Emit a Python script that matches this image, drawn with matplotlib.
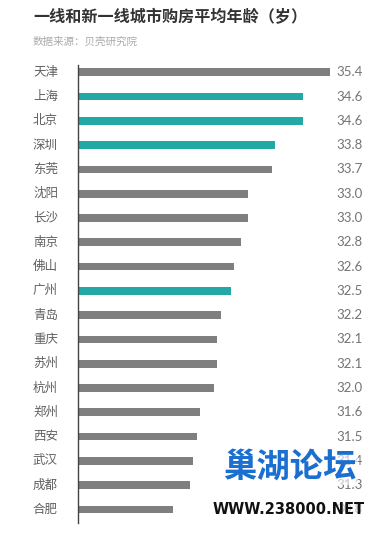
import matplotlib
matplotlib.use("Agg")
import matplotlib.pyplot as plt
import matplotlib.transforms as mtransforms

plt.rcParams['font.family'] = ['Noto Sans CJK SC', 'DejaVu Sans']

cities = ["天津", "上海", "北京", "深圳", "东莞", "沈阳", "长沙", "南京", "佛山", "广州",
          "青岛", "重庆", "苏州", "杭州", "郑州", "西安", "武汉", "成都", "合肥"]
ages = [35.4, 34.6, 34.6, 33.8, 33.7, 33.0, 33.0, 32.8, 32.6, 32.5,
        32.2, 32.1, 32.1, 32.0, 31.6, 31.5, 31.4, 31.3, 30.8]
highlight = ["上海", "北京", "深圳", "广州"]
title = "一线和新一线城市购房平均年龄（岁）"
source = "数据来源：贝壳研究院"

W, H = 392, 533
fig = plt.figure(figsize=(W / 100, H / 100), dpi=100)
fig.patch.set_facecolor("white")

ax_left, ax_top, ax_bottom = 77.5, 65, 523
ax = fig.add_axes([ax_left / W, 1 - ax_bottom / H, 1 - ax_left / W, (ax_bottom - ax_top) / H])
xmin = 28.0
px_per_unit = 34.1
ax.set_xlim(xmin, xmin + (W - ax_left) / px_per_unit)
ax.set_ylim(len(cities) - 1 + 0.56, -0.30)

grey = "#7f7f7f"
teal = "#22a9a6"
colors = [teal if c in highlight else grey for c in cities]
ypos = list(range(len(cities)))
ax.barh(ypos, [a - xmin for a in ages], left=xmin, height=0.32, color=colors)

lab_tr = mtransforms.blended_transform_factory(fig.transFigure, ax.transData)
for y, c, a in zip(ypos, cities, ages):
    ax.text(33 / W, y, c, fontsize=9, color="#606060", va="center", ha="left",
            transform=lab_tr, clip_on=False)
    ax.text(336 / W, y, f"{a:.1f}", fontsize=9.5, color="#747474", va="center", ha="left",
            transform=lab_tr, clip_on=False, family=["Lato", "DejaVu Sans"])

for s in ["top", "right", "bottom"]:
    ax.spines[s].set_visible(False)
ax.spines["left"].set_color("#444444")
ax.spines["left"].set_linewidth(1.0)
ax.set_xticks([])
ax.set_yticks([])
ax.patch.set_alpha(0)

fig.text(33 / W, 1 - 17 / H, title, fontsize=11.6, color="#333333", va="center", ha="left",
         fontweight="bold")
fig.text(33 / W, 1 - 42 / H, source, fontsize=7.6, color="#aaaaaa", va="center", ha="left")

# watermark (logo overlay present in the reference image)
fig.text(290 / W, 1 - 467 / H, "巢湖论坛", fontsize=24, color="#1a6fd0", va="center",
         ha="center", fontweight="bold", zorder=10,
         bbox=dict(facecolor="white", edgecolor="none", alpha=0.6, pad=1))
fig.text(289 / W, 1 - 510 / H, "WWW.238000.NET", fontsize=10.5, color="#111111", va="center",
         ha="center", fontweight="bold", zorder=10, family=["DejaVu Sans"],
         bbox=dict(facecolor="white", edgecolor="none", alpha=0.6, pad=1))

fig.savefig("out.png", dpi=100, facecolor="white")
